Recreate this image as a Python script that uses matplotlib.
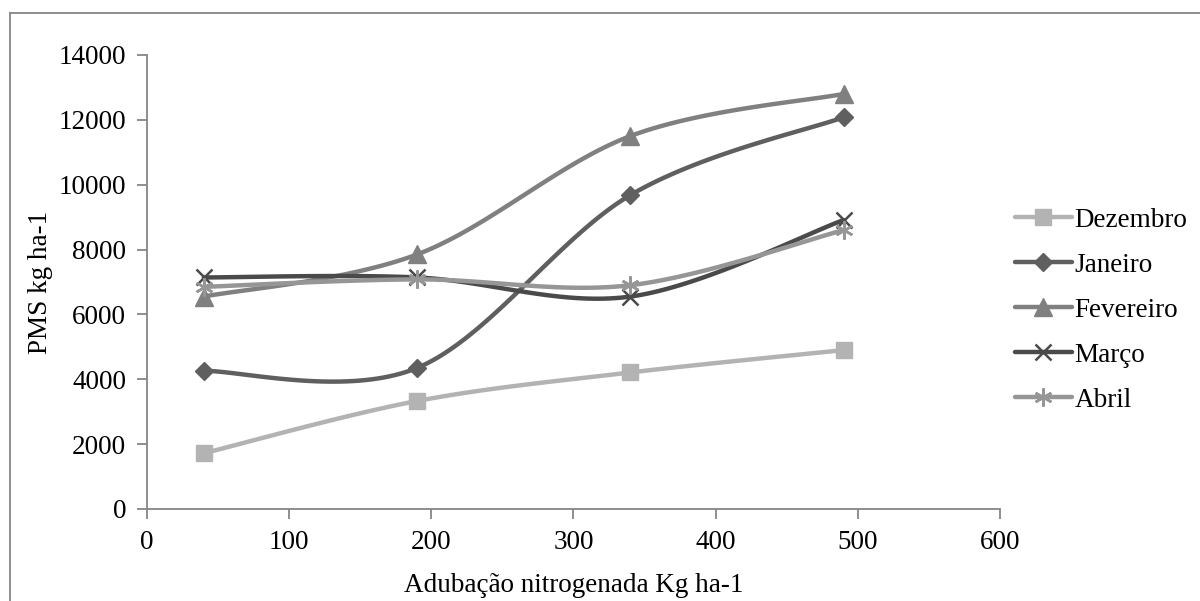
import numpy as np
import matplotlib.pyplot as plt

plt.rcParams['font.family'] = ['Liberation Serif', 'DejaVu Serif']

doses = [40, 190, 340, 490]
dezembro = [1720, 3330, 4210, 4900]
janeiro = [4260, 4350, 9680, 12080]
fevereiro = [6550, 7850, 11500, 12800]
marco = [7140, 7140, 6550, 8910]
abril = [6850, 7080, 6900, 8600]

series = [
    ("Dezembro", dezembro, "#b3b3b3", "s", 11),
    ("Janeiro", janeiro, "#5f5f5f", "D", 9),
    ("Fevereiro", fevereiro, "#808080", "^", 13),
    ("Março", marco, "#4a4a4a", "x", 12),
    ("Abril", abril, "#969696", (6, 2, 0), 13),
]

NSEG = 40
FS = 19.5


def smooth(x, y):
    # bezier smoothing like the spreadsheet "smoothed line" option
    p = np.column_stack([x, y]).astype(float)
    n = len(p)
    out = [p[0]]
    t = np.linspace(0, 1, NSEG + 1)[1:, None]
    for i in range(n - 1):
        prev = p[i - 1] if i > 0 else p[i]
        nxt = p[i + 2] if i + 2 < n else p[i + 1]
        c1 = p[i] + (p[i + 1] - prev) / 6
        c2 = p[i + 1] - (nxt - p[i]) / 6
        seg = ((1 - t) ** 3 * p[i] + 3 * (1 - t) ** 2 * t * c1
               + 3 * (1 - t) * t ** 2 * c2 + t ** 3 * p[i + 1])
        out.extend(seg)
    out = np.array(out)
    return out[:, 0], out[:, 1]


fig = plt.figure(figsize=(12, 6.01), dpi=100)
ax = fig.add_axes([0.1225, 0.1531, 0.7108, 0.7554])

for name, vals, col, mk, ms in series:
    sx, sy = smooth(doses, vals)
    thin = mk == "x" or isinstance(mk, tuple)
    ax.plot(sx, sy, color=col, lw=3.2, marker=mk, ms=ms,
            markevery=list(range(0, len(sx), NSEG)),
            mec=col, mew=1.8 if thin else 1,
            solid_capstyle="round", label=name)

ax.set_xlim(0, 600)
ax.set_ylim(0, 14000)
ax.set_xticks(np.arange(0, 601, 100))
ax.set_yticks(np.arange(0, 14001, 2000))
for s in ("top", "right"):
    ax.spines[s].set_visible(False)
for s in ("left", "bottom"):
    ax.spines[s].set_color("#868686")
    ax.spines[s].set_linewidth(1.3)
ax.tick_params(colors="#868686", labelcolor="black", labelsize=FS,
               length=7, width=1.3)
ax.tick_params(axis="x", pad=8)
ax.tick_params(axis="y", pad=8)
ax.set_xlabel("Adubação nitrogenada Kg ha-1", fontsize=FS, labelpad=13)
ax.set_ylabel("PMS kg ha-1", fontsize=FS, labelpad=4)

leg = ax.legend(loc="center left", bbox_to_anchor=(1.005, 0.438), frameon=False,
                fontsize=FS, handlelength=2.1, handletextpad=0.1,
                labelspacing=0.74, borderaxespad=0)

# chart area border (extends past the picture edges)
fig.add_artist(plt.Line2D([10 / 1200, 10 / 1200], [1 - 13 / 601, 0],
                          transform=fig.transFigure, color="#868686", lw=1.3))
fig.add_artist(plt.Line2D([10 / 1200, 1], [1 - 13 / 601, 1 - 13 / 601],
                          transform=fig.transFigure, color="#868686", lw=1.3))

fig.savefig("out.png", dpi=100)
